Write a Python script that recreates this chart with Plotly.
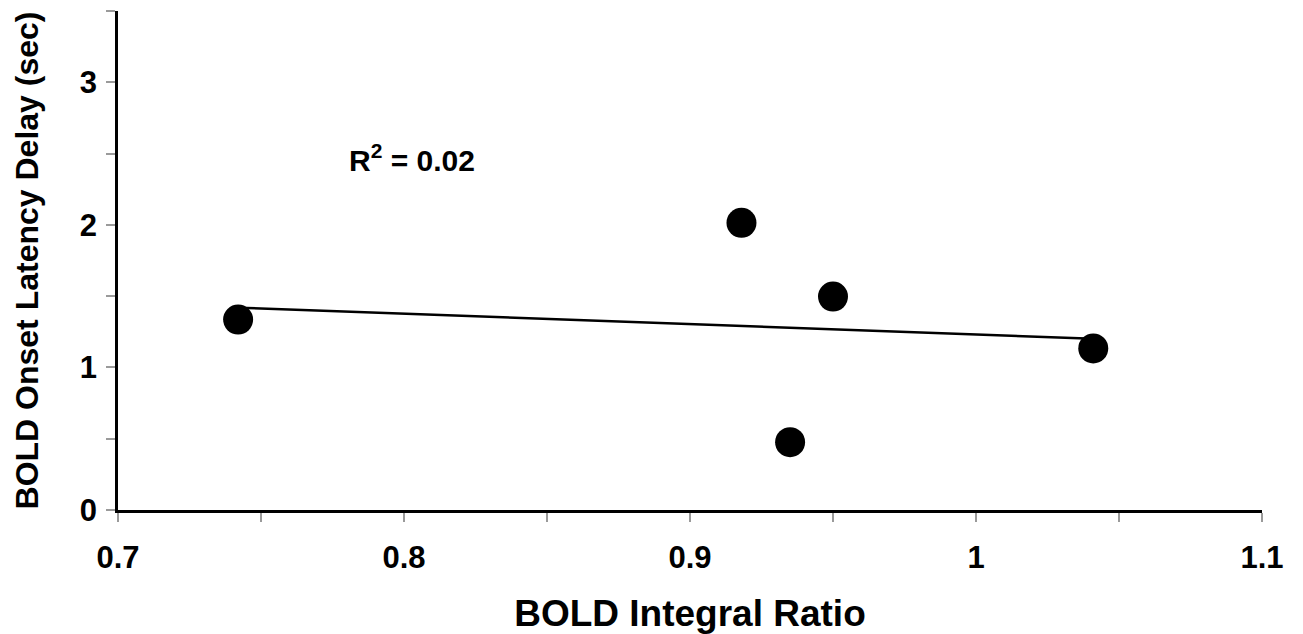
import numpy as np
import plotly.graph_objects as go

# BOLD integral ratio vs. onset latency delay, one point per subject
integral_ratio = [0.742, 0.918, 0.950, 0.935, 1.041]
onset_delay_sec = [1.336, 2.014, 1.497, 0.476, 1.133]

x_ticks = [0.7, 0.8, 0.9, 1.0, 1.1]
x_tick_text = ["0.7", "0.8", "0.9", "1", "1.1"]
y_ticks = [0, 1, 2, 3]
y_tick_text = ["0", "1", "2", "3"]

FONT = "Liberation Sans, Arial, Helvetica, sans-serif"

# least-squares linear trend and its coefficient of determination
xa = np.array(integral_ratio)
ya = np.array(onset_delay_sec)
slope, intercept = np.polyfit(xa, ya, 1)
r2 = np.corrcoef(xa, ya)[0, 1] ** 2
trend_x = [xa.min(), xa.max()]
trend_y = [slope * v + intercept for v in trend_x]

fig = go.Figure()
fig.add_trace(go.Scatter(
    x=trend_x, y=trend_y, mode="lines",
    line=dict(color="black", width=2.5),
    hoverinfo="skip", showlegend=False,
))
fig.add_trace(go.Scatter(
    x=integral_ratio, y=onset_delay_sec, mode="markers",
    marker=dict(color="black", size=30, line=dict(width=0)),
    showlegend=False,
))

fig.add_annotation(
    x=0.8028, y=2.47, xref="x", yref="y",
    text=f"R<sup>2</sup> = {r2:.2f}", showarrow=False,
    font=dict(family=FONT, size=30, color="black", weight="bold"),
)

axis_common = dict(
    showgrid=False, zeroline=False, automargin=False,
    showline=True, linecolor="black", linewidth=2.5,
    ticks="outside", ticklen=9, tickcolor="#9a9a9a", tickwidth=1.5,
    tickfont=dict(family=FONT, size=31, color="black", weight="bold"),
)

fig.update_layout(
    width=1303, height=634,
    margin=dict(l=118, r=41, t=11, b=124),
    paper_bgcolor="white", plot_bgcolor="white",
    xaxis=dict(
        range=[0.7, 1.1], tickvals=x_ticks, ticktext=x_tick_text,
        minor=dict(dtick=0.05, tick0=0.7, ticks="outside", ticklen=9,
                   tickcolor="#9a9a9a", tickwidth=1.5, showgrid=False),
        ticklabelstandoff=9,
        title=dict(text="BOLD Integral Ratio", standoff=28,
                   font=dict(family=FONT, size=37, color="black", weight="bold")),
        **axis_common,
    ),
    yaxis=dict(
        range=[0, 3.5], tickvals=y_ticks, ticktext=y_tick_text,
        minor=dict(dtick=0.5, tick0=0, ticks="outside", ticklen=9,
                   tickcolor="#9a9a9a", tickwidth=1.5, showgrid=False),
        ticklabelstandoff=3,
        title=dict(text="BOLD Onset Latency Delay (sec)", standoff=32,
                   font=dict(family=FONT, size=32, color="black", weight="bold")),
        **axis_common,
    ),
)

fig.write_html("out.html")
